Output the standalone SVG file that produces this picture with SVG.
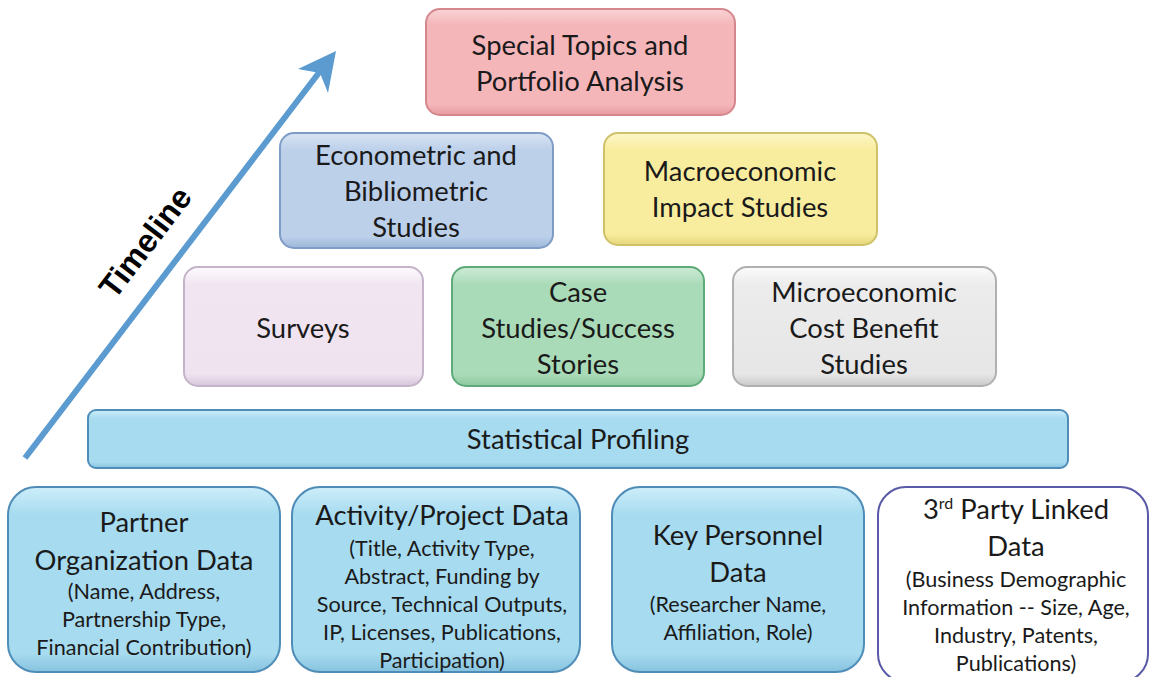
<svg xmlns="http://www.w3.org/2000/svg" width="1152" height="677" viewBox="0 0 1152 677">
<style>
text{font-family:Lato,"Noto Sans",sans-serif;fill:#1a1a1a;text-anchor:middle}
.t{font-size:27.4px}
.s{font-size:21.6px}
.box{stroke-width:2}
</style>
<defs>
<linearGradient id="gPink" x1="0" y1="0" x2="0" y2="1"><stop offset="0" stop-color="#f9d3d5"/><stop offset="0.15" stop-color="#f5b6ba"/><stop offset="0.9" stop-color="#f5b6ba"/><stop offset="1" stop-color="#e59a9f"/></linearGradient>
<linearGradient id="gBlue" x1="0" y1="0" x2="0" y2="1"><stop offset="0" stop-color="#d8e4f3"/><stop offset="0.15" stop-color="#bcd0ea"/><stop offset="0.9" stop-color="#bcd0ea"/><stop offset="1" stop-color="#9db6d9"/></linearGradient>
<linearGradient id="gYel" x1="0" y1="0" x2="0" y2="1"><stop offset="0" stop-color="#fcf6c8"/><stop offset="0.15" stop-color="#f8ed9e"/><stop offset="0.9" stop-color="#f8ed9e"/><stop offset="1" stop-color="#e6d77c"/></linearGradient>
<linearGradient id="gLav" x1="0" y1="0" x2="0" y2="1"><stop offset="0" stop-color="#fdfbfd"/><stop offset="0.15" stop-color="#f0e5f1"/><stop offset="0.9" stop-color="#efe3f0"/><stop offset="1" stop-color="#d6c6da"/></linearGradient>
<linearGradient id="gGrn" x1="0" y1="0" x2="0" y2="1"><stop offset="0" stop-color="#cdebd6"/><stop offset="0.15" stop-color="#aadbb8"/><stop offset="0.9" stop-color="#aadbb8"/><stop offset="1" stop-color="#8cc79e"/></linearGradient>
<linearGradient id="gGry" x1="0" y1="0" x2="0" y2="1"><stop offset="0" stop-color="#fbfbfb"/><stop offset="0.15" stop-color="#ececec"/><stop offset="0.9" stop-color="#e6e6e6"/><stop offset="1" stop-color="#c9c9c9"/></linearGradient>
<linearGradient id="gCyan" x1="0" y1="0" x2="0" y2="1"><stop offset="0" stop-color="#cdeef9"/><stop offset="0.15" stop-color="#a7dbf0"/><stop offset="0.9" stop-color="#a7dbf0"/><stop offset="1" stop-color="#86c2de"/></linearGradient>
</defs>

<g id="connectors">
<line x1="25" y1="458" x2="321" y2="70" stroke="#5b9bd0" stroke-width="6"/>
<path d="M336,51 L328,93 L320,73 L298,69 Z" fill="#5b9bd0"/>
<text transform="translate(154,249) rotate(-52.7)" style="font-family:'Liberation Sans',Arial,sans-serif;font-weight:bold;font-size:32px;fill:#000">Timeline</text>
</g>

<g id="special">
<rect class="box" x="426" y="9" width="309" height="106" rx="14" fill="url(#gPink)" stroke="#d4888d"/>
<text class="t" x="580" y="55">Special Topics and</text>
<text class="t" x="580" y="91">Portfolio Analysis</text>
</g>

<g id="econometric">
<rect class="box" x="280" y="133" width="273" height="115" rx="14" fill="url(#gBlue)" stroke="#7e9cc6"/>
<text class="t" x="416" y="165">Econometric and</text>
<text class="t" x="416" y="201">Bibliometric</text>
<text class="t" x="416" y="237">Studies</text>
</g>

<g id="macro">
<rect class="box" x="604" y="133" width="273" height="112" rx="14" fill="url(#gYel)" stroke="#cfc167"/>
<text class="t" x="740" y="181">Macroeconomic</text>
<text class="t" x="740" y="217">Impact Studies</text>
</g>

<g id="surveys">
<rect class="box" x="184" y="267" width="239" height="119" rx="14" fill="url(#gLav)" stroke="#c4b3c9"/>
<text class="t" x="303" y="338">Surveys</text>
</g>

<g id="case">
<rect class="box" x="452" y="267" width="252" height="119" rx="14" fill="url(#gGrn)" stroke="#5eaa78"/>
<text class="t" x="578" y="302">Case</text>
<text class="t" x="578" y="338">Studies/Success</text>
<text class="t" x="578" y="374">Stories</text>
</g>

<g id="micro">
<rect class="box" x="733" y="267" width="263" height="119" rx="14" fill="url(#gGry)" stroke="#b0b0b0"/>
<text class="t" x="864" y="302">Microeconomic</text>
<text class="t" x="864" y="338">Cost Benefit</text>
<text class="t" x="864" y="374">Studies</text>
</g>

<g id="statistical">
<rect class="box" x="88" y="410" width="980" height="58" rx="8" fill="url(#gCyan)" stroke="#4f8db8"/>
<text class="t" x="578" y="449">Statistical Profiling</text>
</g>

<g id="partner">
<rect class="box" x="8" y="487" width="272" height="185" rx="28" fill="url(#gCyan)" stroke="#4f8db8"/>
<text class="t" x="144" y="532">Partner</text>
<text class="t" x="144" y="570">Organization Data</text>
<text class="s" x="144" y="599">(Name, Address,</text>
<text class="s" x="144" y="627">Partnership Type,</text>
<text class="s" x="144" y="655">Financial Contribution)</text>
</g>

<g id="activity">
<rect class="box" x="292" y="487" width="288" height="185" rx="28" fill="url(#gCyan)" stroke="#4f8db8"/>
<text class="t" x="442" y="525">Activity/Project Data</text>
<text class="s" x="442" y="556">(Title, Activity Type,</text>
<text class="s" x="442" y="584">Abstract, Funding by</text>
<text class="s" x="442" y="612">Source, Technical Outputs,</text>
<text class="s" x="442" y="640">IP, Licenses, Publications,</text>
<text class="s" x="442" y="668">Participation)</text>
</g>

<g id="personnel">
<rect class="box" x="612" y="487" width="252" height="185" rx="28" fill="url(#gCyan)" stroke="#4f8db8"/>
<text class="t" x="738" y="545">Key Personnel</text>
<text class="t" x="738" y="582">Data</text>
<text class="s" x="738" y="612">(Researcher Name,</text>
<text class="s" x="738" y="640">Affiliation, Role)</text>
</g>

<g id="thirdparty">
<rect x="878" y="487" width="270" height="195" rx="28" fill="#ffffff" stroke="#5a5aa8" stroke-width="2"/>
<text class="t" x="1016" y="519">3<tspan font-size="16" dy="-10">rd</tspan><tspan dy="10"> Party Linked</tspan></text>
<text class="t" x="1016" y="556">Data</text>
<text class="s" x="1016" y="587">(Business Demographic</text>
<text class="s" x="1016" y="615">Information -- Size, Age,</text>
<text class="s" x="1016" y="643">Industry, Patents,</text>
<text class="s" x="1016" y="671">Publications)</text>
</g>
</svg>
